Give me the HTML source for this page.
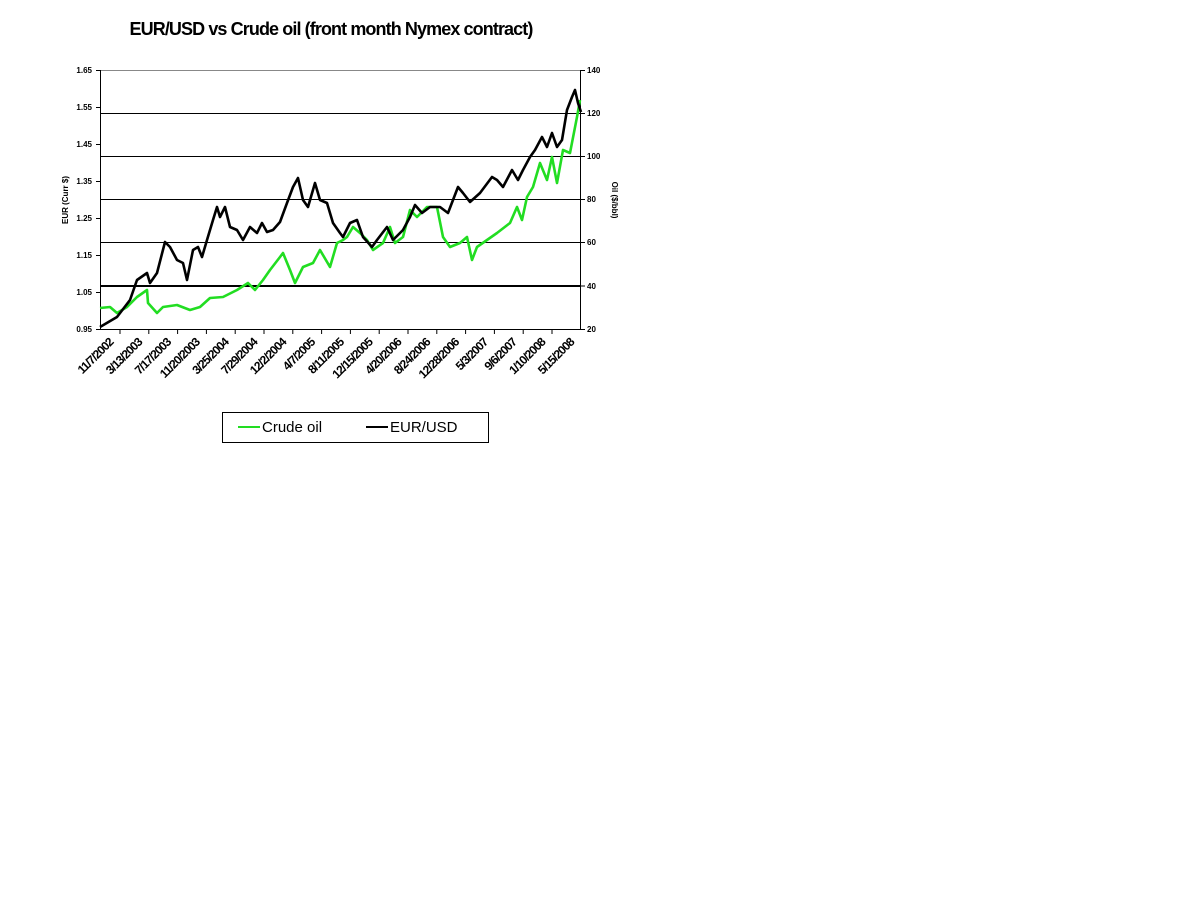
<!DOCTYPE html>
<html><head><meta charset="utf-8"><style>
body{margin:0;background:#fff;width:1199px;height:899px;overflow:hidden;font-family:"Liberation Sans",Arial,sans-serif}
</style></head><body>
<svg width="1199" height="899" xmlns="http://www.w3.org/2000/svg" font-family="Liberation Sans, Arial, sans-serif">
<text x="331" y="35" text-anchor="middle" font-size="18" font-weight="bold" letter-spacing="-0.9">EUR/USD vs Crude oil (front month Nymex contract)</text>
<g stroke="#000" stroke-width="1">
<line x1="100" y1="70.5" x2="580" y2="70.5" stroke="#888"/>
<line x1="100" y1="113.5" x2="580" y2="113.5"/>
<line x1="100" y1="156.5" x2="580" y2="156.5"/>
<line x1="100" y1="199.5" x2="580" y2="199.5"/>
<line x1="100" y1="242.5" x2="580" y2="242.5"/>
<line x1="100" y1="286" x2="580" y2="286" stroke-width="2"/>
<line x1="100.5" y1="70" x2="100.5" y2="330"/>
<line x1="580.5" y1="70" x2="580.5" y2="330"/>
<line x1="100" y1="329.5" x2="581" y2="329.5"/>
<line x1="96" y1="70.5" x2="100" y2="70.5"/><line x1="96" y1="107.5" x2="100" y2="107.5"/><line x1="96" y1="144.5" x2="100" y2="144.5"/><line x1="96" y1="181.5" x2="100" y2="181.5"/><line x1="96" y1="218.5" x2="100" y2="218.5"/><line x1="96" y1="255.5" x2="100" y2="255.5"/><line x1="96" y1="292.5" x2="100" y2="292.5"/><line x1="96" y1="329.5" x2="100" y2="329.5"/>
<line x1="580" y1="70.5" x2="585" y2="70.5"/><line x1="580" y1="113.5" x2="585" y2="113.5"/><line x1="580" y1="156.5" x2="585" y2="156.5"/><line x1="580" y1="199.5" x2="585" y2="199.5"/><line x1="580" y1="242.5" x2="585" y2="242.5"/><line x1="580" y1="286" x2="585" y2="286"/><line x1="580" y1="329.5" x2="585" y2="329.5"/>
</g>
<g stroke="#000" stroke-width="1">
<line x1="120" y1="329" x2="120" y2="334"/><line x1="148.8" y1="329" x2="148.8" y2="334"/><line x1="177.6" y1="329" x2="177.6" y2="334"/><line x1="206.4" y1="329" x2="206.4" y2="334"/><line x1="235.2" y1="329" x2="235.2" y2="334"/><line x1="264" y1="329" x2="264" y2="334"/><line x1="292.8" y1="329" x2="292.8" y2="334"/><line x1="321.6" y1="329" x2="321.6" y2="334"/><line x1="350.4" y1="329" x2="350.4" y2="334"/><line x1="379.2" y1="329" x2="379.2" y2="334"/><line x1="408" y1="329" x2="408" y2="334"/><line x1="436.8" y1="329" x2="436.8" y2="334"/><line x1="465.6" y1="329" x2="465.6" y2="334"/><line x1="494.4" y1="329" x2="494.4" y2="334"/><line x1="523.2" y1="329" x2="523.2" y2="334"/><line x1="552" y1="329" x2="552" y2="334"/>
</g>
<g font-size="8" font-weight="bold" text-anchor="end">
<text x="92" y="73">1.65</text><text x="92" y="110">1.55</text><text x="92" y="147">1.45</text><text x="92" y="184">1.35</text><text x="92" y="221">1.25</text><text x="92" y="258">1.15</text><text x="92" y="295">1.05</text><text x="92" y="332">0.95</text>
</g>
<g font-size="8" font-weight="bold">
<text x="587" y="73">140</text><text x="587" y="116">120</text><text x="587" y="159">100</text><text x="587" y="202">80</text><text x="587" y="245">60</text><text x="587" y="289">40</text><text x="587" y="332">20</text>
</g>
<text transform="translate(68,200) rotate(-90)" font-size="8" font-weight="bold" text-anchor="middle">EUR (Curr $)</text>
<text transform="translate(612,200) rotate(90)" font-size="8" font-weight="bold" text-anchor="middle">Oil ($/bbl)</text>
<g font-size="12" font-weight="bold" text-anchor="end" letter-spacing="-0.9">
<text transform="translate(114,343) rotate(-45)">11/7/2002</text>
<text transform="translate(142.8,343) rotate(-45)">3/13/2003</text>
<text transform="translate(171.6,343) rotate(-45)">7/17/2003</text>
<text transform="translate(200.4,343) rotate(-45)">11/20/2003</text>
<text transform="translate(229.2,343) rotate(-45)">3/25/2004</text>
<text transform="translate(258,343) rotate(-45)">7/29/2004</text>
<text transform="translate(286.8,343) rotate(-45)">12/2/2004</text>
<text transform="translate(315.6,343) rotate(-45)">4/7/2005</text>
<text transform="translate(344.4,343) rotate(-45)">8/11/2005</text>
<text transform="translate(373.2,343) rotate(-45)">12/15/2005</text>
<text transform="translate(402,343) rotate(-45)">4/20/2006</text>
<text transform="translate(430.8,343) rotate(-45)">8/24/2006</text>
<text transform="translate(459.6,343) rotate(-45)">12/28/2006</text>
<text transform="translate(488.4,343) rotate(-45)">5/3/2007</text>
<text transform="translate(517.2,343) rotate(-45)">9/6/2007</text>
<text transform="translate(546,343) rotate(-45)">1/10/2008</text>
<text transform="translate(574.8,343) rotate(-45)">5/15/2008</text>
</g>
<polyline fill="none" stroke="#22dd22" stroke-width="2.6" stroke-linejoin="round" points="100,308 110,307 117,313 127,307 137,297 147,290 148,303 157,313 163,307 177,305 190,310 200,307 210,298 223,297 237,290 248,283 255,290 263,280 270,270 280,257 283,253 290,270 295,283 303,267 313,263 320,250 330,267 337,243 343,240 347,237 353,227 360,233 367,240 373,250 383,243 390,227 395,243 403,237 410,210 417,217 427,207 437,207 443,237 450,247 460,243 467,237 472,260 477,247 487,240 497,233 510,223 517,207 522,220 527,197 533,187 540,163 547,180 552,157 557,183 563,150 570,153 577,117 580,100"/>
<polyline fill="none" stroke="#000" stroke-width="2.6" stroke-linejoin="round" points="100,327 117,317 130,300 137,280 147,273 150,283 157,273 165,242 170,247 177,260 183,263 187,280 193,250 198,247 202,257 207,240 213,220 217,207 220,217 225,207 230,227 237,230 243,240 250,227 257,233 262,223 267,232 273,230 280,222 287,203 293,187 298,178 303,200 308,207 315,183 320,200 327,203 333,223 340,233 343,237 350,223 357,220 363,237 372,247 377,240 387,227 393,240 403,230 410,217 415,205 422,213 430,207 440,207 448,213 458,187 463,193 470,202 480,193 492,177 497,180 503,187 512,170 518,180 523,170 530,157 535,150 542,137 547,147 552,133 557,147 562,140 567,110 572,97 575,90 578,103 581,112"/>
<rect x="222.5" y="412.5" width="266" height="30" fill="#fff" stroke="#000"/>
<line x1="238" y1="427" x2="260" y2="427" stroke="#22dd22" stroke-width="2"/>
<text x="262" y="432" font-size="15">Crude oil</text>
<line x1="366" y1="427" x2="388" y2="427" stroke="#000" stroke-width="2"/>
<text x="390" y="432" font-size="15">EUR/USD</text>
</svg>
</body></html>
